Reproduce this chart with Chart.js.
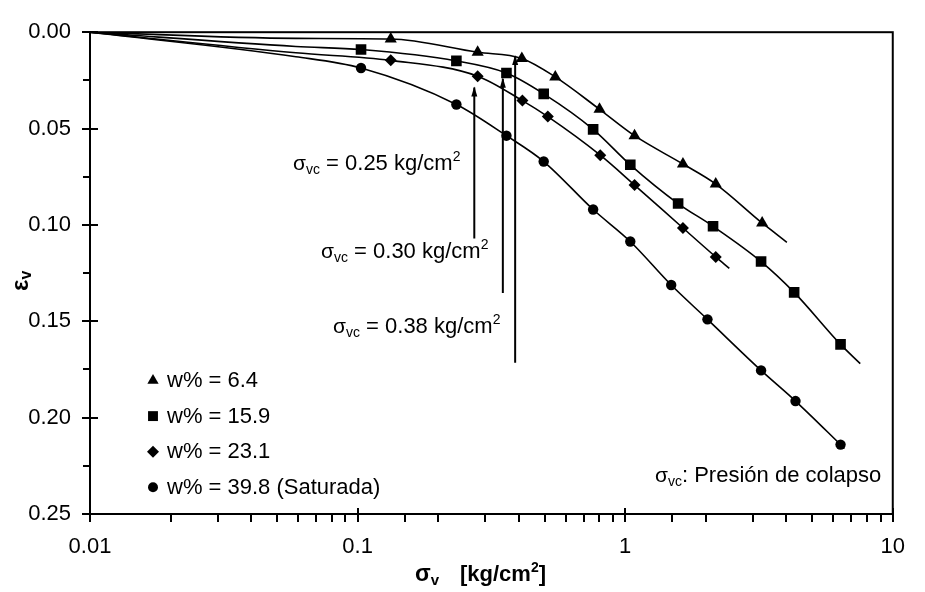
<!DOCTYPE html>
<html>
<head>
<meta charset="utf-8">
<script src="https://cdn.jsdelivr.net/npm/chart.js@4/dist/chart.umd.min.js"></script>
<style>
body{margin:0;background:#fff}
#grafica{display:block}
</style>
</head>
<body>
<canvas id="grafica" width="925" height="592"></canvas>
<script>

const FUENTE="'Liberation Sans', Arial, sans-serif"

/* DATOS */

const etiquetas=["w% = 6.4","w% = 15.9","w% = 23.1","w% = 39.8 (Saturada)"]

// w% = 6.4 (triangulos)
const triX=[0.133,0.281,0.411,0.548,0.802,1.084,1.644,2.18,3.25]
const triY=[0.0035,0.0104,0.0136,0.0232,0.040,0.0537,0.0684,0.0788,0.099]

// w% = 15.9 (cuadrados)
const cuaX=[0.103,0.234,0.36,0.496,0.759,1.045,1.577,2.13,3.22,4.28,6.38]
const cuaY=[0.009,0.0149,0.0212,0.032,0.0504,0.0688,0.0889,0.1007,0.119,0.135,0.162]

// w% = 23.1 (rombos)
const romX=[0.133,0.281,0.413,0.514,0.807,1.084,1.644,2.18]
const romY=[0.0146,0.0228,0.0355,0.0438,0.0638,0.0793,0.1016,0.1166]

// w% = 39.8 (circulos)
const cirX=[0.103,0.234,0.36,0.496,0.759,1.045,1.486,2.03,3.22,4.33,6.38]
const cirY=[0.0186,0.0375,0.0537,0.0671,0.092,0.1086,0.1312,0.149,0.1755,0.1914,0.214]

// puntos extra de las curvas ajustadas (inicio, tramo inicial, final)
const curvaInicio=[0.01,0]
const curvaTempranaX=0.0588
const curvaTempranaY=[0.0032,0.0074,0.0107,0.0127]
const curvaFinX=[4.02,7.56,2.45,6.6]
const curvaFinY=[0.109,0.172,0.1225,0.216]

// presion de colapso (flechas)
const flechaX=[0.273,0.349,0.388]
const flechaArriba=[0.0287,0.0241,0.0124]
const flechaAbajo=[0.1071,0.1353,0.1715]
const flechaTexto=["0.25","0.30","0.38"]

const xTicksMayores=[0.01,0.1,1,10]
const yTicks=[0,0.05,0.10,0.15,0.20,0.25]

/* ARMADO */

const series=[
{x:triX,y:triY,estilo:"triangle",radio:7},
{x:cuaX,y:cuaY,estilo:"rect",radio:7.5},
{x:romX,y:romY,estilo:"rectRot",radio:6},
{x:cirX,y:cirY,estilo:"circle",radio:5.2}
]

const datasets=[]

series.forEach((s,i)=>{

const pts=[{x:curvaInicio[0],y:curvaInicio[1]},{x:curvaTempranaX,y:curvaTempranaY[i]}]
s.x.forEach((v,j)=>pts.push({x:v,y:s.y[j]}))
pts.push({x:curvaFinX[i],y:curvaFinY[i]})

datasets.push({
data:pts,
borderColor:"#000",
borderWidth:1.6,
pointRadius:0,
cubicInterpolationMode:"monotone",
fill:false
})

datasets.push({
data:s.x.map((v,j)=>({x:v,y:s.y[j]})),
showLine:false,
pointStyle:s.estilo,
pointRadius:s.radio,
pointBackgroundColor:"#000",
pointBorderColor:"#000",
pointBorderWidth:0
})

})

flechaX.forEach((fx,i)=>{
datasets.push({
data:[{x:fx,y:flechaArriba[i]},{x:fx,y:flechaAbajo[i]}],
borderColor:"#000",
borderWidth:2,
pointRadius:0,
flecha:true
})
})

/* TEXTO CON SUB/SUPERINDICES */

function texto(ctx,partes,x,y){
partes.forEach(p=>{
ctx.font=(p.b?"bold ":"")+p.s+"px "+FUENTE
if(p.x!==undefined) x=p.x
ctx.fillText(p.t,x,y+(p.dy||0))
x+=ctx.measureText(p.t).width
})
}

function marcador(ctx,estilo,r,x,y){
if(Chart.helpers&&Chart.helpers.drawPoint){
Chart.helpers.drawPoint(ctx,{pointStyle:estilo,radius:r,rotation:0,borderWidth:0},x,y)
}else{
ctx.beginPath();ctx.arc(x,y,r,0,Math.PI*2);ctx.fill()
}
}

const dibujo={
id:"dibujo",
afterDraw(chart){

const ctx=chart.ctx
const a=chart.chartArea
const sx=chart.scales.x
const sy=chart.scales.y

ctx.save()
ctx.strokeStyle="#000"
ctx.fillStyle="#000"

/* marco */
ctx.lineWidth=2
ctx.strokeRect(a.left,a.top,a.right-a.left,a.bottom-a.top)

/* ticks y */
ctx.lineWidth=2
ctx.beginPath()
for(let v=0;v<=0.2501;v+=0.025){
const py=Math.round(sy.getPixelForValue(v))
const mayor=Math.abs(v/0.05-Math.round(v/0.05))<1e-6
ctx.moveTo(a.left-(mayor?8:7),py)
ctx.lineTo(a.left+(mayor?8:0),py)
}
ctx.stroke()

/* ticks x */
ctx.beginPath()
sx.ticks.forEach(t=>{
const px=Math.round(sx.getPixelForValue(t.value))
const l=Math.log10(t.value)
const mayor=Math.abs(l-Math.round(l))<1e-9
ctx.moveTo(px,a.bottom+8)
ctx.lineTo(px,a.bottom-(mayor?6:0))
})
ctx.stroke()

/* puntas de flecha */
chart.data.datasets.forEach((d,i)=>{
if(!d.flecha) return
const p=chart.getDatasetMeta(i).data[0]
ctx.beginPath()
ctx.moveTo(p.x,p.y-1)
ctx.lineTo(p.x-3,p.y+9)
ctx.lineTo(p.x+3,p.y+9)
ctx.closePath()
ctx.fill()
})

/* leyenda */
ctx.textBaseline="alphabetic"
ctx.textAlign="left"
series.forEach((s,i)=>{
const yb=387+i*35.6
marcador(ctx,s.estilo,[6.5,7,6,5][i],153,yb-6.5)
ctx.font="22px "+FUENTE
ctx.fillText(etiquetas[i],167,yb)
})

/* etiquetas de presion de colapso */
const posEtiq=[[293,170],[321,258],[333,333]]
flechaTexto.forEach((t,i)=>{
texto(ctx,[
{t:"σ",s:21},
{t:"vc",s:14,dy:4},
{t:" = "+t+" kg/cm",s:22},
{t:"2",s:14,dy:-9}
],posEtiq[i][0],posEtiq[i][1])
})

texto(ctx,[
{t:"σ",s:21},
{t:"vc",s:14,dy:4},
{t:": Presión de colapso",s:22}
],655,482)

/* titulo eje x */
texto(ctx,[
{t:"σ",s:23,b:true},
{t:"v",s:15,b:true,dy:4},
{t:"[kg/cm",s:22,b:true,x:460},
{t:"2",s:14,b:true,dy:-9},
{t:"]",s:22,b:true}
],415,581)

/* titulo eje y */
ctx.translate(28,291)
ctx.rotate(-Math.PI/2)
texto(ctx,[
{t:"ε",s:24,b:true},
{t:"v",s:16,b:true,dy:3}
],0,0)

ctx.restore()

}
}

Chart.defaults.font.family=FUENTE
Chart.defaults.color="#000"

new Chart(document.getElementById("grafica"),{

type:"line",

data:{datasets:datasets},

options:{
responsive:false,
animation:false,
events:[],
layout:{autoPadding:false,padding:{top:17,right:16,left:0,bottom:0}},
plugins:{legend:{display:false},tooltip:{enabled:false}},
scales:{
x:{
type:"logarithmic",
min:0.01,
max:10,
grid:{display:false,drawTicks:false},
border:{display:false},
ticks:{
autoSkip:false,
maxRotation:0,
minRotation:0,
padding:20,
font:{size:22},
callback:v=>xTicksMayores.includes(v)?String(v):""
},
afterFit:s=>{s.height=78}
},
y:{
type:"linear",
reverse:true,
min:0,
max:0.25,
grid:{display:false,drawTicks:false},
border:{display:false},
ticks:{
stepSize:0.05,
padding:19,
font:{size:22},
callback:v=>yTicks.some(t=>Math.abs(t-v)<1e-9)?v.toFixed(2):""
},
afterFit:s=>{s.width=90}
}
}
},

plugins:[dibujo]

})

</script>
</body>
</html>
